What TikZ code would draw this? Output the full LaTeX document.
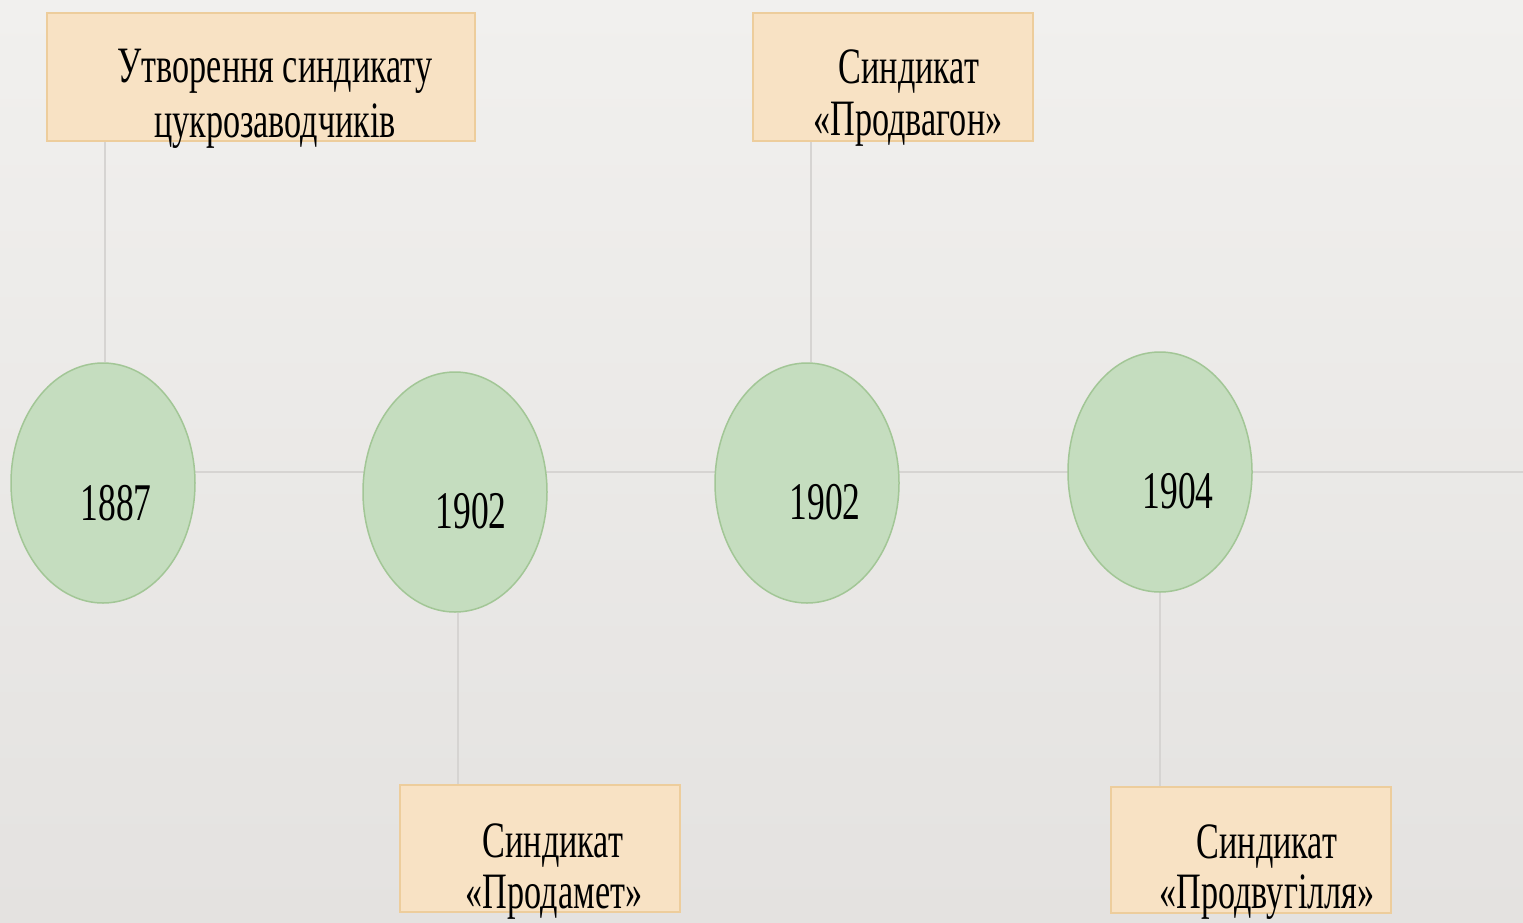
\documentclass[tikz,border=0pt]{standalone}
\usepackage{fontspec}
\setmainfont{Liberation Serif}
\newfontfamily\tlfont[FakeStretch=0.67]{Liberation Serif}
\usetikzlibrary{shapes.geometric}
\definecolor{bgtop}{HTML}{F1F0EE}
\definecolor{bgbot}{HTML}{E4E2E0}
\definecolor{boxfill}{HTML}{F8E2C4}
\definecolor{boxline}{HTML}{EDCD9C}
\definecolor{circfill}{HTML}{C5DDBF}
\definecolor{circline}{HTML}{A2C696}
\definecolor{connline}{HTML}{D6D4D2}
\tikzset{
  eventbox/.style={draw=boxline, line width=1.5pt, fill=boxfill, rectangle, inner sep=0pt, minimum width=280pt, minimum height=127pt},
  yearnode/.style={draw=circline, line width=1.5pt, fill=circfill, ellipse, inner sep=0pt, minimum width=184pt, minimum height=240pt},
  boxtext/.style={anchor=base, inner sep=0pt, font=\tlfont\fontsize{51}{55}\selectfont},
  yeartext/.style={anchor=base, inner sep=0pt, font=\tlfont\fontsize{53}{56}\selectfont},
  conn/.style={draw=connline, line width=2pt}
}
\begin{document}
\begin{tikzpicture}[x=1pt, y=-1pt]
\useasboundingbox (0,0) rectangle (1523,922);
\shade[top color=bgtop, bottom color=bgbot] (0,0) rectangle (1523,922);
% timeline axis
\coordinate (axisL) at (103,472);
\coordinate (axisR) at (1523,472);
\draw[conn] (axisL) -- (axisR);
% boxes
\node[eventbox, minimum width=428pt, minimum height=128pt] (b1) at (261,77) {};
\node[eventbox, minimum height=128pt] (b2) at (893,77) {};
\node[eventbox] (b3) at (540,848.5) {};
\node[eventbox, minimum height=126pt] (b4) at (1251,850) {};
% circles
\node[yearnode] (c1) at (103,483) {};
\node[yearnode] (c2) at (455,492) {};
\node[yearnode] (c3) at (807,483) {};
\node[yearnode] (c4) at (1160,472) {};
% connectors
\draw[conn] (c1.north) ++(2,0) coordinate (c1t) -- (c1t |- b1.south);
\draw[conn] (c3.north) ++(4,0) coordinate (c3t) -- (c3t |- b2.south);
\draw[conn] (c2.south) ++(3,0) coordinate (c2b) -- (c2b |- b3.north);
\draw[conn] (c4.south) -- (c4.south |- b4.north);
% box texts
\node[boxtext] (t1a) at (275,82) {Утворення синдикату};
\node[boxtext] (t1b) at (275,137) {цукрозаводчиків};
\node[boxtext] (t2a) at (909,83) {Синдикат};
\node[boxtext] (t2b) at (908,135) {«Продвагон»};
\node[boxtext] (t3a) at (553,857) {Синдикат};
\node[boxtext] (t3b) at (554,908) {«Продамет»};
\node[boxtext] (t4a) at (1267,858) {Синдикат};
\node[boxtext] (t4b) at (1267,908) {«Продвугілля»};
% year texts
\node[yeartext] (y1) at (116,520) {1887};
\node[yeartext] (y2) at (471,528) {1902};
\node[yeartext] (y3) at (825,519) {1902};
\node[yeartext] (y4) at (1178,508) {1904};
\end{tikzpicture}
\end{document}
